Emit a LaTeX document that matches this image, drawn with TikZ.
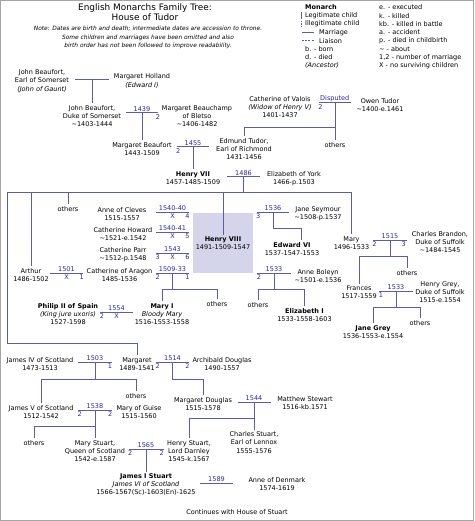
\documentclass[tikz,border=0pt]{standalone}
\usepackage{fontspec}
\setmainfont{DejaVu Sans}
\definecolor{linec}{RGB}{92,92,168}
\definecolor{yearc}{RGB}{40,40,150}
\definecolor{boxc}{RGB}{212,213,235}
\definecolor{framec}{RGB}{165,165,165}
\newcommand\tsize{\fontsize{6.5}{8.3}\selectfont}
\newcommand\abt{\textasciitilde}

\begin{document}
\begin{tikzpicture}[x=1pt, y=-1pt,
  per/.style={align=center, font=\tsize, inner sep=1.8pt},
  mline/.style={linec, line width=1pt},
  kid/.style={linec, line width=1pt},
  yr/.style={above, midway, text=yearc, font=\tsize, inner sep=0.6pt},
  no/.style={below, text=yearc, font=\tsize, inner sep=0.8pt},
  leg/.style={anchor=west, font=\tsize, inner sep=0pt}]

\useasboundingbox (0,0) rectangle (474,521);
\draw[framec, line width=0.8pt] (0.5,0.5) rectangle (473.5,520.5);

% title and note
\node[align=center, font=\fontsize{8.9}{10}\selectfont] (title) at (145,12) {English Monarchs Family Tree:\\House of Tudor};
\node[align=center, font=\fontsize{5.9}{8.4}\selectfont\itshape] (note) at (148,37.5)
  {Note: Dates are birth and death; intermediate dates are accession to throne.\\
   Some children and marriages have been omitted and also\\
   birth order has not been followed to improve readability.};

% legend
\node[leg, font=\tsize\bfseries] (lmon) at (305,7.3) {Monarch};
\node[leg] (lleg) at (305,15.6) {Legitimate child};
\node[leg] (lill) at (305,24) {Illegitimate child};
\node[leg] (lmar) at (319,32.3) {Marriage};
\node[leg] (llia) at (319,40.6) {Liaison};
\node[leg] (lb) at (305,49) {b. - born};
\node[leg] (ld) at (305,57.3) {d. - died};
\node[leg] (lanc) at (305,65.6) {\textit{(Ancestor)}};
\draw[kid] ([xshift=-3.5]lleg.north west) -- ([xshift=-3.5]lleg.south west);
\draw[kid, dash pattern=on 1.5pt off 1pt] ([xshift=-3.5]lill.north west) -- ([xshift=-3.5]lill.south west);
\draw[kid] ([xshift=-17]lmar.west) -- ([xshift=-5]lmar.west);
\draw[kid, dash pattern=on 2pt off 1.2pt] ([xshift=-17]llia.west) -- ([xshift=-5]llia.west);

\node[leg] (le) at (379,7.3) {e. - executed};
\node[leg] (lk) at (379,15.6) {k. - killed};
\node[leg] (lkb) at (379,24) {kb. - killed in battle};
\node[leg] (la) at (379,32.3) {a. - accident};
\node[leg] (lp) at (379,40.6) {p. - died in childbirth};
\node[leg] (lab) at (379,49) {\abt\ - about};
\node[leg] (lnum) at (379,57.3) {1,2 - number of marriage};
\node[leg] (lx) at (379,65.6) {X - no surviving children};

% Beauforts
\node[per] (jbe) at (42,81) {John Beaufort,\\Earl of Somerset\\\textit{(John of Gaunt)}};
\node[per] (mho) at (142,81) {Margaret Holland\\\textit{(Edward I)}};
\node[per] (jbd) at (92,116) {John Beaufort,\\Duke of Somerset\\\abt1403-1444};
\node[per] (mbe) at (197,116) {Margaret Beauchamp\\of Bletso\\\abt1406-1482};
\node[per] (mbf) at (142,149) {Margaret Beaufort\\1443-1509};

\coordinate (u1) at (92,80);
\draw[mline] ([xshift=-17]u1) -- ([xshift=17]u1);
\draw[kid] (u1) -- (u1 |- jbd.north);

\coordinate (u1439) at (142,113);
\draw[mline] ([xshift=-16]u1439) -- ([xshift=16]u1439) node[yr]{1439} node[no,pos=1]{2};
\draw[kid] (u1439) -- (u1439 |- mbf.north);

% Tudors
\node[per] (cva) at (280,107) {Catherine of Valois\\\textit{(Widow of Henry V)}\\1401-1437};
\node[per] (otu) at (380,105) {Owen Tudor\\\abt1400-e.1461};
\node[per] (etu) at (244,149) {Edmund Tudor,\\Earl of Richmond\\1431-1456};
\node[per] (oth0) at (335,145) {others};

\coordinate (uDisp) at (335,103);
\coordinate (bDisp) at (335,128);
\draw[mline] ([xshift=-16.5]uDisp) -- ([xshift=16]uDisp) node[yr]{Disputed} node[no,pos=.06]{2};
\draw[kid] (uDisp) -- (uDisp |- oth0.north);
\draw[kid] (bDisp) -| (etu.north);

\node[per] (h7) at (193,178) {\textbf{Henry VII}\\1457-1485-1509};
\node[per] (eyo) at (294,178.5) {Elizabeth of York\\1466-p.1503};

\coordinate (u1455) at (193,147);
\draw[mline] ([xshift=-16]u1455) -- ([xshift=16]u1455) node[yr]{1455} node[no,pos=.04]{2};
\draw[kid] (u1455) -- (u1455 |- h7.north);

% children of Henry VII
\node[per] (art) at (31,275) {Arthur\\1486-1502};
\node[per] (oth1) at (68,209) {others};
\node[per, fill=boxc, minimum width=60, minimum height=60] (h8) at (223,243) {\textbf{Henry VIII}\\1491-1509-1547};
\node[per] (mar) at (351.5,243) {Mary\\1496-1533};
\node[per] (mgt) at (137,364) {Margaret\\1489-1541};

\coordinate (u1486) at (243.5,177);
\coordinate (b1486) at (243.5,193);
\coordinate (lft) at (7,343);
\draw[mline] ([xshift=-16.5]u1486) -- ([xshift=16.5]u1486) node[yr]{1486};
\draw[kid] (u1486) -- (b1486);
\draw[kid] (b1486) -| (lft) -| (mgt.north);
\draw[kid] (b1486) -| (art.north);
\draw[kid] (b1486) -| (oth1.north);
\draw[kid] (b1486) -| ([yshift=-22]h8.north);
\draw[kid] (b1486) -| (mar.north);

% wives of Henry VIII
\node[per] (acl) at (122,214) {Anne of Cleves\\1515-1557};
\node[per] (cho) at (123,234) {Catherine Howard\\\abt1521-e.1542};
\node[per] (cpa) at (123,254.5) {Catherine Parr\\\abt1512-p.1548};
\node[per] (car) at (119.5,275) {Catherine of Aragon\\1485-1536};
\node[per] (jse) at (318,214) {Jane Seymour\\\abt1508-p.1537};
\node[per] (abo) at (318,276) {Anne Boleyn\\\abt1501-e.1536};

\coordinate (u1540a) at (172.5,212);
\draw[mline] ([xshift=-16.5]u1540a) -- ([xshift=16.5]u1540a) node[yr]{1540-40} node[no,pos=.5]{X} node[no,pos=.95]{4};
\coordinate (u1540b) at (172.5,232);
\draw[mline] ([xshift=-16.5]u1540b) -- ([xshift=16.5]u1540b) node[yr]{1540-41} node[no,pos=.5]{X} node[no,pos=.95]{5};
\coordinate (u1543) at (172.5,253);
\draw[mline] ([xshift=-16.5]u1543) -- ([xshift=16.5]u1543) node[yr]{1543} node[no,pos=.05]{3} node[no,pos=.5]{X} node[no,pos=.95]{6};
\coordinate (u1509) at (172.5,273);
\coordinate (b1509) at (172.5,289);
\draw[mline] ([xshift=-16.5]u1509) -- ([xshift=16.5]u1509) node[yr]{1509-33} node[no,pos=.05]{2} node[no,pos=.95]{1};

\coordinate (u1501) at (66.5,273);
\draw[mline] ([xshift=-16.5]u1501) -- ([xshift=16.5]u1501) node[yr]{1501} node[no,pos=.5]{X} node[no,pos=.96]{1};

\node[per] (m1) at (162,314) {\textbf{Mary I}\\\textit{Bloody Mary}\\1516-1553-1558};
\node[per] (oth2) at (217,304) {others};
\node[per] (ph2) at (68,314) {\textbf{Philip II of Spain}\\\textit{(King jure uxoris)}\\1527-1598};
\draw[kid] (u1509) -- (b1509);
\draw[kid] (b1509) -| (m1.north);
\draw[kid] (b1509) -| (oth2.north);

\coordinate (u1554) at (116.5,312);
\draw[mline] ([xshift=-16.5]u1554) -- ([xshift=16.5]u1554) node[yr]{1554} node[no,pos=.06]{2} node[no,pos=.5]{X};

\node[per] (e6) at (292,249) {\textbf{Edward VI}\\1537-1547-1553};
\coordinate (u1536) at (273,212);
\coordinate (b1536) at (273,228);
\draw[mline] ([xshift=-16]u1536) -- ([xshift=16]u1536) node[yr]{1536} node[no,pos=.04]{3};
\draw[kid] (u1536) -- (b1536) -| ([xshift=9]e6.north);

\node[per] (oth3) at (258,305) {others};
\node[per] (el1) at (304.5,315) {\textbf{Elizabeth I}\\1533-1558-1603};
\coordinate (u1533a) at (274,273);
\coordinate (b1533a) at (274,289);
\draw[mline] ([xshift=-17]u1533a) -- ([xshift=17]u1533a) node[yr]{1533} node[no,pos=.06]{2};
\draw[kid] (u1533a) -- (b1533a);
\draw[kid] (b1533a) -| (oth3.north);
\draw[kid] (b1533a) -| (el1.north);

% Mary and the Greys
\node[per] (cbr) at (440,242) {Charles Brandon,\\Duke of Suffolk\\\abt1484-1545};
\node[per] (oth4) at (407,273) {others};
\node[per] (fra) at (359,292.5) {Frances\\1517-1559};
\node[per] (hgr) at (440,292.3) {Henry Grey,\\Duke of Suffolk\\1515-e.1554};
\node[per] (jgr) at (373,332) {\textbf{Jane Grey}\\1536-1553-e.1554};
\node[per] (oth5) at (420,323) {others};

\coordinate (u1515) at (390,240);
\coordinate (b1515) at (390,256);
\draw[mline] ([xshift=-17]u1515) -- ([xshift=17]u1515) node[yr]{1515} node[no,pos=.04]{2} node[no,pos=.9]{3};
\draw[kid] (u1515) -- (b1515);
\draw[kid] (b1515) -| (fra.north);
\draw[kid] (b1515) -| (oth4.north);

\coordinate (u1533b) at (396,291);
\coordinate (b1533b) at (396,307);
\draw[mline] ([xshift=-17]u1533b) -- ([xshift=17]u1533b) node[yr]{1533} node[no,pos=.06]{1};
\draw[kid] (u1533b) -- (b1533b);
\draw[kid] (b1533b) -| (jgr.north);
\draw[kid] (b1533b) -| (oth5.north);

% Margaret and the Stuarts
\node[per] (j4) at (40,364) {James IV of Scotland\\1473-1513};
\node[per] (ado) at (222,364) {Archibald Douglas\\1490-1557};
\node[per] (j5) at (41,412) {James V of Scotland\\1512-1542};
\node[per] (oth6) at (136,396) {others};
\node[per] (mgu) at (139,412) {Mary of Guise\\1515-1560};
\node[per] (mdo) at (203,404) {Margaret Douglas\\1515-1578};
\node[per] (mst) at (305,403) {Matthew Stewart\\1516-kb.1571};

\coordinate (u1503) at (95,362);
\coordinate (b1503) at (95,379);
\draw[mline] ([xshift=-17]u1503) -- ([xshift=17]u1503) node[yr]{1503} node[no,pos=.94]{1};
\draw[kid] (u1503) -- (b1503);
\draw[kid] (b1503) -| (j5.north);
\draw[kid] (b1503) -| (oth6.north);

\coordinate (u1514) at (172.5,362);
\coordinate (b1514) at (172.5,379);
\draw[mline] ([xshift=-16.5]u1514) -- ([xshift=16.5]u1514) node[yr]{1514} node[no,pos=.05]{2} node[no,pos=.95]{2};
\draw[kid] (u1514) -- (b1514) -| (mdo.north);

\node[per] (oth7) at (34,443) {others};
\node[per] (mqs) at (95,451) {Mary Stuart,\\Queen of Scotland\\1542-e.1587};
\node[per] (hst) at (189,451) {Henry Stuart,\\Lord Darnley\\1545-k.1567};
\node[per] (cst) at (254,442.5) {Charles Stuart,\\Earl of Lennox\\1555-1576};

\coordinate (u1538) at (95,410);
\coordinate (b1538) at (95,426);
\draw[mline] ([xshift=-17]u1538) -- ([xshift=17]u1538) node[yr]{1538} node[no,pos=.05]{2} node[no,pos=.95]{2};
\draw[kid] (u1538) -- (mqs.north);
\draw[kid] (b1538) -| (oth7.north);

\coordinate (u1544) at (254,402);
\coordinate (b1544) at (254,418);
\draw[mline] ([xshift=-16.5]u1544) -- ([xshift=16.5]u1544) node[yr]{1544};
\draw[kid] (u1544) -- (cst.north);
\draw[kid] (b1544) -| (hst.north);

\node[per] (j1) at (146,484.7) {\textbf{James I Stuart}\\\textit{James VI of Scotland}\\1566-1567(Sc)-1603(En)-1625};
\node[per] (ade) at (277,484) {Anne of Denmark\\1574-1619};

\coordinate (u1565) at (146,449);
\draw[mline] ([xshift=-17.5]u1565) -- ([xshift=17.5]u1565) node[yr]{1565} node[no,pos=.05]{2} node[no,pos=.95]{2};
\draw[kid] (u1565) -- (j1.north);

\coordinate (u1589) at (216.5,483);
\draw[mline] ([xshift=-16.5]u1589) -- ([xshift=16.5]u1589) node[yr]{1589};

\node[per] (cont) at (237,512) {Continues with House of Stuart};

\end{tikzpicture}
\end{document}
